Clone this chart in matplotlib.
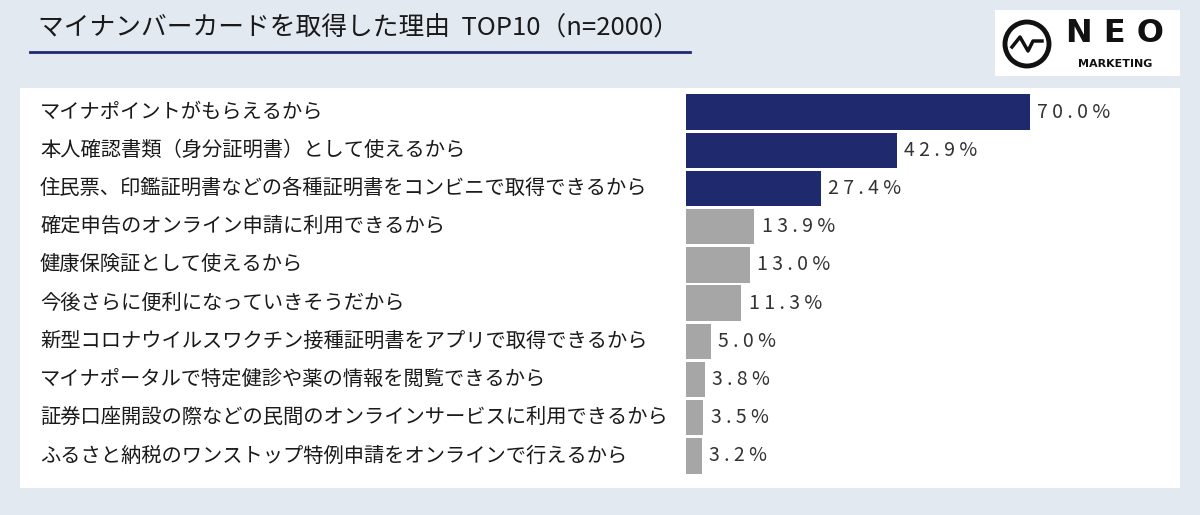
import matplotlib.pyplot as plt
import matplotlib.transforms as mtrans
from matplotlib.patches import Rectangle, Circle

# ========== DATA ==========
reasons = [
    "マイナポイントがもらえるから",
    "本人確認書類（身分証明書）として使えるから",
    "住民票、印鑑証明書などの各種証明書をコンビニで取得できるから",
    "確定申告のオンライン申請に利用できるから",
    "健康保険証として使えるから",
    "今後さらに便利になっていきそうだから",
    "新型コロナウイルスワクチン接種証明書をアプリで取得できるから",
    "マイナポータルで特定健診や薬の情報を閲覧できるから",
    "証券口座開設の際などの民間のオンラインサービスに利用できるから",
    "ふるさと納税のワンストップ特例申請をオンラインで行えるから",
]
values = [70.0, 42.9, 27.4, 13.9, 13.0, 11.3, 5.0, 3.8, 3.5, 3.2]
title = "マイナンバーカードを取得した理由  TOP10（n=2000）"

plt.rcParams["font.family"] = "Noto Sans CJK JP"
W, H = 1200, 515
fig = plt.figure(figsize=(12, 5.15), dpi=100)
fig.patch.set_facecolor("#e3e9f1")

# ========== BACKGROUND (pixel coords, y down) ==========
bg = fig.add_axes([0, 0, 1, 1], zorder=-1)
bg.set_xlim(0, W)
bg.set_ylim(H, 0)
bg.axis("off")
bg.add_patch(Rectangle((20, 88), 1160, 400, facecolor="white", edgecolor="none"))
bg.text(38, 28, title, fontsize=18.5, color="#1a1a1a", va="center")
bg.plot([30, 690], [52, 52], color="#1f2a6e", lw=2)

# logo
bg.add_patch(Rectangle((995, 10), 185, 66, facecolor="white", edgecolor="none"))
bg.add_patch(Circle((1027, 44), 22, fill=False, lw=3.5, color="#111111"))
bg.plot([1012, 1020, 1028, 1033, 1042], [47, 37, 51, 41, 41], color="#111111", lw=2.5)
bg.text(1115, 33, "N E O", fontsize=23, fontweight="bold", ha="center",
        va="center", color="#111111", family="DejaVu Sans")
bg.text(1115, 64, "MARKETING", fontsize=8, fontweight="bold", ha="center",
        va="center", color="#111111", family="DejaVu Sans")

# ========== BARS ==========
ax = fig.add_axes([686 / W, 1 - 475 / H, 494 / W, 382 / H])
ax.set_xlim(0, 494 / 4.91)
ax.set_ylim(len(values) - 0.5, -0.5)
ax.axis("off")
ypos = list(range(len(values)))
colors = ["#1f2a6e"] * 3 + ["#a6a6a6"] * (len(values) - 3)
ax.barh(ypos, values, height=0.93, color=colors)

trans = mtrans.blended_transform_factory(fig.transFigure, ax.transData)
for y, v, r in zip(ypos, values, reasons):
    txt = " ".join(f"{v:.1f}%")
    ax.text(v + 1.5, y, txt, va="center", ha="left", fontsize=14, color="#333333")
    ax.text(40 / W, y, r, transform=trans, va="center", ha="left",
            fontsize=14.6, color="#1a1a1a", clip_on=False)

fig.savefig("out.png", facecolor=fig.get_facecolor())
